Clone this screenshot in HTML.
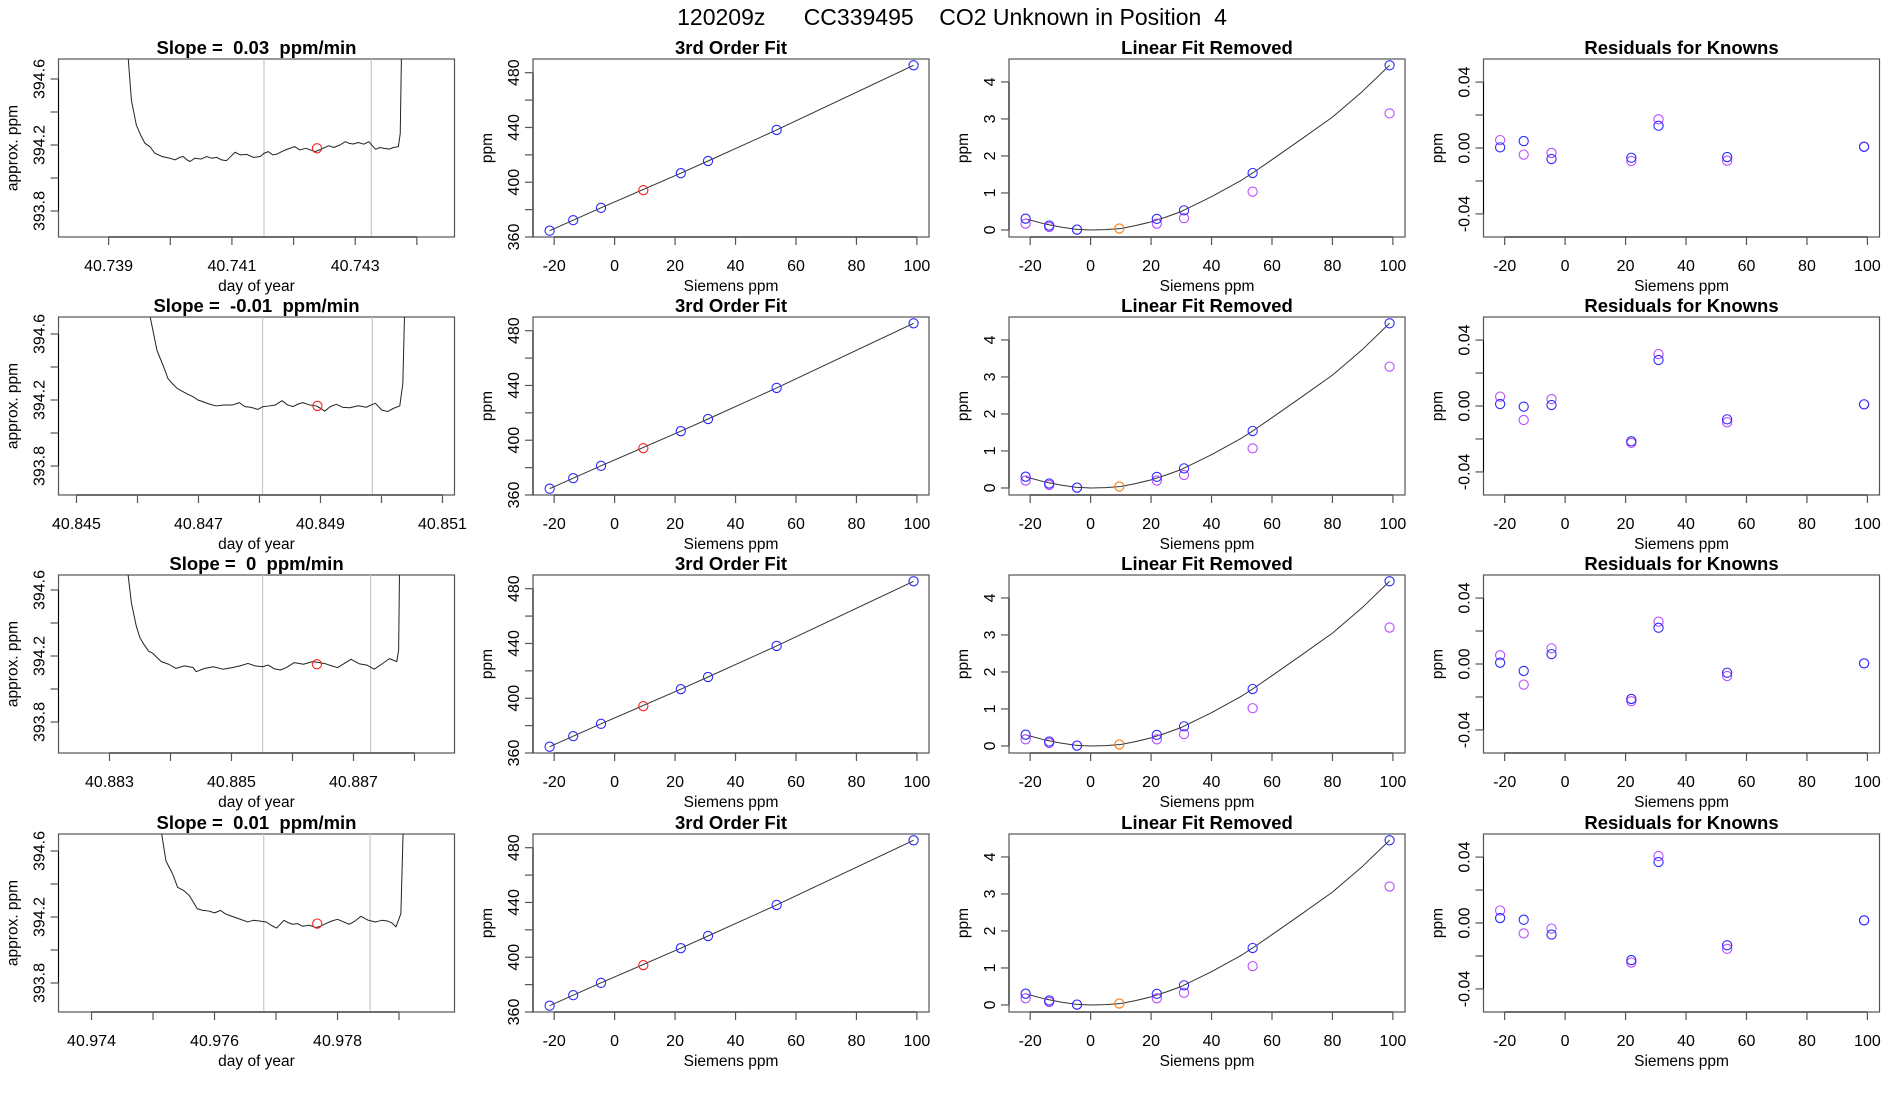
<!DOCTYPE html>
<html><head><meta charset="utf-8">
<style>
html,body{margin:0;padding:0;background:#fff;}
svg{display:block;font-family:"Liberation Sans",sans-serif;}
svg text{white-space:pre;}
</style></head>
<body>
<svg id="chart" width="1900" height="1100" viewBox="0 0 1900 1100" xmlns="http://www.w3.org/2000/svg">
<text x="952" y="25" font-size="23" text-anchor="middle" xml:space="preserve">120209z      CC339495    CO2 Unknown in Position  4</text>
</svg>
<script>
// ---------- data ----------
const slopeLabels = ["0.03", "-0.01", "0", "0.01"];
const row1Times = [40.73922,40.73937,40.73945,40.73952,40.73959,40.73967,40.73975,40.73987,40.73999,40.74008,40.74015,40.74021,40.74027,40.74032,40.74040,40.74050,40.74059,40.74067,40.74075,40.74083,40.74091,40.74098,40.74105,40.74114,40.74124,40.74135,40.74146,40.74152,40.74159,40.74166,40.74173,40.74181,40.74190,40.74202,40.74210,40.74220,40.74235,40.74245,40.74257,40.74265,40.74275,40.74284,40.74290,40.74297,40.74305,40.74314,40.74322,40.74333,40.74340,40.74346,40.74355,40.74362,40.74370,40.74373,40.74376];
const row1Values = [395.2,394.47,394.32,394.26,394.21,394.19,394.15,394.13,394.12,394.11,394.125,394.13,394.11,394.10,394.12,394.115,394.13,394.12,394.125,394.11,394.105,394.13,394.156,394.14,394.143,394.125,394.13,394.15,394.16,394.14,394.145,394.16,394.175,394.19,394.17,394.18,394.16,394.175,394.196,394.185,394.20,394.22,394.21,394.206,394.215,394.205,394.22,394.174,394.185,394.18,394.175,394.185,394.19,394.27,395.0];
const row2Times = [40.84621,40.84632,40.84643,40.84650,40.84657,40.84665,40.84672,40.84680,40.84691,40.84699,40.84707,40.84718,40.84729,40.84742,40.84756,40.84767,40.84776,40.84787,40.84797,40.84806,40.84816,40.84826,40.84837,40.84846,40.84855,40.84863,40.84871,40.84882,40.84893,40.84900,40.84907,40.84916,40.84926,40.84937,40.84948,40.84962,40.84975,40.84983,40.84990,40.85000,40.85010,40.85020,40.85030,40.85035,40.85039];
const row2Values = [394.70,394.50,394.40,394.33,394.30,394.27,394.256,394.24,394.22,394.20,394.19,394.175,394.164,394.17,394.17,394.184,394.16,394.155,394.143,394.16,394.164,394.17,394.196,394.17,394.16,394.175,394.184,394.17,394.164,394.15,394.133,394.16,394.174,394.155,394.153,394.165,394.156,394.17,394.18,394.14,394.13,394.15,394.164,394.30,394.9];
const row3Times = [40.88327,40.88336,40.88344,40.88350,40.88357,40.88364,40.88371,40.88378,40.88385,40.88397,40.88409,40.88423,40.88437,40.88442,40.88456,40.88470,40.88486,40.88502,40.88514,40.88527,40.88539,40.88551,40.88560,40.88570,40.88580,40.88590,40.88603,40.88618,40.88633,40.88644,40.88655,40.88664,40.88674,40.88685,40.88696,40.88710,40.88722,40.88734,40.88746,40.88759,40.88771,40.88774,40.88776];
const row3Values = [394.8,394.52,394.38,394.31,394.267,394.23,394.216,394.19,394.166,394.15,394.125,394.14,394.13,394.105,394.125,394.135,394.12,394.13,394.14,394.155,394.14,394.135,394.145,394.123,394.115,394.13,394.16,394.15,394.166,394.16,394.152,394.14,394.13,394.155,394.18,394.152,394.145,394.12,394.15,394.184,394.166,394.236,394.9];
const row4Times = [40.97510,40.97521,40.97532,40.97540,40.97550,40.97559,40.97572,40.97581,40.97591,40.97600,40.97610,40.97617,40.97624,40.97639,40.97654,40.97663,40.97673,40.97684,40.97692,40.97701,40.97713,40.97720,40.97727,40.97735,40.97743,40.97754,40.97765,40.97773,40.97781,40.97790,40.97800,40.97810,40.97819,40.97828,40.97838,40.97850,40.97862,40.97872,40.97881,40.97888,40.97895,40.97903,40.97908];
const row4Values = [394.8,394.54,394.46,394.38,394.36,394.33,394.25,394.24,394.236,394.225,394.24,394.22,394.21,394.19,394.17,394.18,394.176,394.17,394.15,394.133,394.18,394.165,394.156,394.16,394.144,394.15,394.136,394.145,394.16,394.175,394.186,394.17,394.156,394.175,394.204,394.18,394.17,394.18,394.176,394.165,394.14,394.22,394.9];
const windowStart = [40.74152, 40.84805, 40.88551, 40.97680];
const windowEnd = [40.74326, 40.84985, 40.88728, 40.97853];
const meanTime = [40.74238, 40.84895, 40.88640, 40.97767];
const meanValue = [394.18, 394.164, 394.15, 394.16];
const timeTickStart = [40.739, 40.845, 40.883, 40.974];
const timeTickCount = [6, 7, 6, 6];
const timeXMin = [40.738187, 40.844705, 40.882164, 40.973463];
const timeXMax = [40.744610, 40.851197, 40.888656, 40.979902];

const knownX = [-21.5, -13.7, -4.5, 21.9, 30.9, 53.6, 98.9];
const unknownX = 9.5;
const fitPpm = [364.6, 372.3, 381.3, 406.6, 415.5, 438.2, 485.4];
const unknownPpm = 394.2;
const linRemovedBlue = [0.305, 0.12, 0.01, 0.30, 0.53, 1.54, 4.45];
const linRemovedPurple1 = [0.17, 0.08, 0.01, 0.17, 0.32, 1.035, 3.15];
const linRemovedPurple2 = [0.20, 0.08, 0.01, 0.20, 0.35, 1.07, 3.28];
const linRemovedPurple3 = [0.18, 0.08, 0.01, 0.18, 0.32, 1.02, 3.20];
const linRemovedPurple4 = [0.18, 0.08, 0.01, 0.18, 0.33, 1.05, 3.20];
const unknownLinRemoved = 0.04;
const curveX = [-21.5,-15,-10,-5,0,5,10,15,20,25,30,40,50,53.6,60,70,80,90,98.9];
const curveY = [0.30,0.16,0.08,0.02,0.0,0.01,0.04,0.12,0.22,0.35,0.50,0.90,1.35,1.54,1.90,2.47,3.05,3.75,4.45];
const resBlue1 = [0.0004, 0.0042, -0.0067, -0.0059, 0.0135, -0.0055, 0.0008];
const resPurple1 = [0.0048, -0.004, -0.003, -0.0079, 0.0174, -0.0077, 0.0007];
const resBlue2 = [0.0012, -0.0004, 0.0006, -0.0214, 0.0279, -0.0081, 0.001];
const resPurple2 = [0.0057, -0.0085, 0.0042, -0.0224, 0.0315, -0.0099, 0.001];
const resBlue3 = [0.0008, -0.0042, 0.006, -0.0212, 0.022, -0.0053, 0.0004];
const resPurple3 = [0.0053, -0.0125, 0.0095, -0.0226, 0.0257, -0.0073, 0.0004];
const resBlue4 = [0.003, 0.002, -0.007, -0.0225, 0.037, -0.0135, 0.0016];
const resPurple4 = [0.0076, -0.0063, -0.0034, -0.024, 0.0406, -0.0157, 0.0016];
const siemensTicks = [-20, 0, 20, 40, 60, 80, 100];
const ppmTicks = [360, 380, 400, 420, 440, 460, 480];
const ppmTickLabels = ["360", "", "400", "", "440", "", "480"];
const linTicks = [0, 1, 2, 3, 4];
const resTicks = [-0.04, -0.02, 0, 0.02, 0.04];
const resTickLabels = ["-0.04", "", "0.00", "", "0.04"];
const concTicks = [393.8, 394.0, 394.2, 394.4, 394.6];
const concTickLabels = ["393.8", "", "394.2", "", "394.6"];

// ---------- layout ----------
const svg = document.getElementById('chart');
const NS = 'http://www.w3.org/2000/svg';
const colLeft = [58.5, 533, 1009, 1483.5];
const rowTop = [59, 317, 575, 834];
const W = 396, H = 178;
const BLUE = '#2a2aff', PURPLE = '#b94dff', RED = '#ff2020', ORANGE = '#ff7700';

function mk(tag, attrs, parent) {
  const e = document.createElementNS(NS, tag);
  for (const k in attrs) e.setAttribute(k, attrs[k]);
  (parent || svg).appendChild(e);
  return e;
}
function scale(d0, d1, r0, r1) { return v => r0 + (v - d0) / (d1 - d0) * (r1 - r0); }

function panel(ri, ci, title, xlab, ylab, xmin, xmax, ymin, ymax) {
  const g = mk('g', {});
  
  
  const L = colLeft[ci], T = rowTop[ri];
  const sx = scale(xmin, xmax, L, L + W), sy = scale(ymin, ymax, T + H, T);
  const box = mk('rect', {x: L, y: T, width: W, height: H, fill: 'none', stroke: '#555', 'stroke-width': 1.2}, g);
  
  
  const t = mk('text', {x: L + W / 2, y: T - 5, 'font-size': 18.5, 'font-weight': 'bold', 'text-anchor': 'middle'}, g);
  t.textContent = title;
  
  
  const xl = mk('text', {x: L + W / 2, y: T + H + 54, 'font-size': 15.5, 'text-anchor': 'middle'}, g);
  xl.textContent = xlab;
  
  
  const yl = mk('text', {x: 0, y: 0, 'font-size': 15.5, 'text-anchor': 'middle', transform: 'translate(' + (L - 41) + ',' + (T + H / 2) + ') rotate(-90)'}, g);
  yl.textContent = ylab;
  
  
  const clipId = 'clip' + ri + ci;
  const cp = mk('clipPath', {id: clipId}, g);
  mk('rect', {x: L, y: T, width: W, height: H}, cp);
  const plot = mk('g', {'clip-path': 'url(#' + clipId + ')'}, g);
  return {g, plot, sx, sy, L, T};
}
function xAxis(p, ticks, labels) {
  const y0 = p.T + H;
  mk('line', {x1: p.sx(ticks[0]), x2: p.sx(ticks[ticks.length - 1]), y1: y0, y2: y0, stroke: '#000', 'stroke-width': 1}, p.g);
  ticks.forEach((v, i) => {
    const x = p.sx(v);
    const tk = mk('line', {x1: x, x2: x, y1: y0, y2: y0 + 8, stroke: '#555', 'stroke-width': 1.2}, p.g);
    
    
    if (labels[i]) {
      const t = mk('text', {x: x, y: y0 + 34, 'font-size': 16, 'text-anchor': 'middle'}, p.g);
      t.textContent = labels[i];
      
      
    }
  });
}
function yAxis(p, ticks, labels) {
  const x0 = p.L;
  mk('line', {x1: x0, x2: x0, y1: p.sy(ticks[0]), y2: p.sy(ticks[ticks.length - 1]), stroke: '#000', 'stroke-width': 1}, p.g);
  ticks.forEach((v, i) => {
    const y = p.sy(v);
    const tk = mk('line', {x1: x0 - 8, x2: x0, y1: y, y2: y, stroke: '#555', 'stroke-width': 1.2}, p.g);
    
    
    if (labels[i]) {
      const t = mk('text', {x: 0, y: 0, 'font-size': 16, 'text-anchor': 'middle', transform: 'translate(' + (x0 - 14) + ',' + y + ') rotate(-90)'}, p.g);
      t.textContent = labels[i];
      
      
    }
  });
}
function circle(p, x, y, color, name) {
  const c = mk('circle', {cx: p.sx(x), cy: p.sy(y), r: 4.6, fill: 'none', stroke: color, 'stroke-width': 1.1}, p.plot);
  
  
}
function polyline(p, xs, ys, color, width, name) {
  const pts = xs.map((x, i) => p.sx(x).toFixed(2) + ',' + p.sy(ys[i]).toFixed(2)).join(' ');
  const pl = mk('polyline', {points: pts, fill: 'none', stroke: color, 'stroke-width': width, 'stroke-linejoin': 'round'}, p.plot);
  
  
}

const allTimes = [row1Times, row2Times, row3Times, row4Times];
const allValues = [row1Values, row2Values, row3Values, row4Values];
const concTopOffset = [20, 17, 15, 17];
const purpleSets = [linRemovedPurple1, linRemovedPurple2, linRemovedPurple3, linRemovedPurple4];
const resBlueSets = [resBlue1, resBlue2, resBlue3, resBlue4];
const resPurpleSets = [resPurple1, resPurple2, resPurple3, resPurple4];
const siemensLabels = siemensTicks.map(String);

for (let r = 0; r < 4; r++) {
  const yTop = 394.6 + concTopOffset[r] / 165;
  const yBot = yTop - H / 165;
  const p1 = panel(r, 0, 'Slope =  ' + slopeLabels[r] + '  ppm/min', 'day of year', 'approx. ppm', timeXMin[r], timeXMax[r], yBot, yTop);
  const tt = [], tl = [];
  for (let k = 0; k < timeTickCount[r]; k++) {
    const v = +(timeTickStart[r] + k * 0.001).toFixed(3);
    tt.push(v); tl.push(k % 2 === 0 ? v.toFixed(3) : '');
  }
  xAxis(p1, tt, tl);
  yAxis(p1, concTicks, concTickLabels);
  [windowStart[r], windowEnd[r]].forEach(w => {
    const l = mk('line', {x1: p1.sx(w), x2: p1.sx(w), y1: p1.T, y2: p1.T + H, stroke: '#c8c8c8', 'stroke-width': 1.2}, p1.plot);
    
    
  });
  polyline(p1, allTimes[r], allValues[r], '#222', 1, 'concentration-trace');
  circle(p1, meanTime[r], meanValue[r], RED, 'window-mean-point');

  const p2 = panel(r, 1, '3rd Order Fit', 'Siemens ppm', 'ppm', -27, 104, 360, 490);
  xAxis(p2, siemensTicks, siemensLabels);
  yAxis(p2, ppmTicks, ppmTickLabels);
  polyline(p2, knownX, fitPpm, '#333', 1, 'cubic-fit-line');
  knownX.forEach((x, i) => circle(p2, x, fitPpm[i], BLUE, 'known-standard-point'));
  circle(p2, unknownX, unknownPpm, RED, 'unknown-point');

  const p3 = panel(r, 2, 'Linear Fit Removed', 'Siemens ppm', 'ppm', -27, 104, -0.19, 4.62);
  xAxis(p3, siemensTicks, siemensLabels);
  yAxis(p3, linTicks, linTicks.map(String));
  polyline(p3, curveX, curveY, '#333', 1, 'fit-curve');
  knownX.forEach((x, i) => circle(p3, x, purpleSets[r][i], PURPLE, 'measured-known-point'));
  knownX.forEach((x, i) => circle(p3, x, linRemovedBlue[i], BLUE, 'fitted-known-point'));
  circle(p3, unknownX, unknownLinRemoved, ORANGE, 'unknown-point');

  const p4 = panel(r, 3, 'Residuals for Knowns', 'Siemens ppm', 'ppm', -27, 104, -0.054, 0.054);
  xAxis(p4, siemensTicks, siemensLabels);
  yAxis(p4, resTicks, resTickLabels);
  knownX.forEach((x, i) => circle(p4, x, resPurpleSets[r][i], PURPLE, 'residual-alt-point'));
  knownX.forEach((x, i) => circle(p4, x, resBlueSets[r][i], BLUE, 'residual-point'));
}
</script>
</body></html>
